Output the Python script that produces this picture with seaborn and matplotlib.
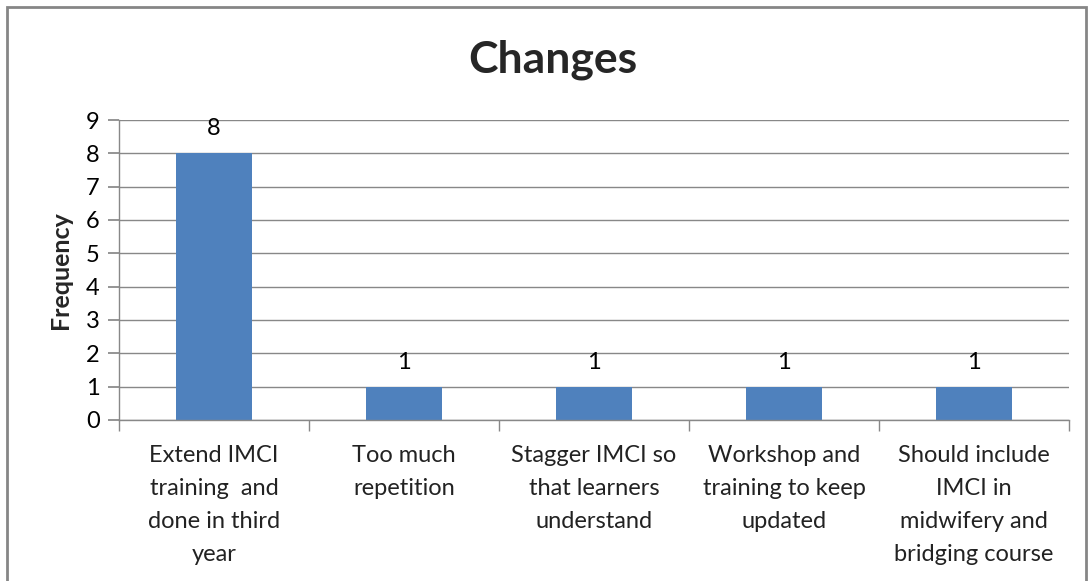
import matplotlib
matplotlib.use('Agg')
import matplotlib.pyplot as plt
import matplotlib.patches as mpatches
import seaborn as sns
import pandas as pd
import numpy as np

# data
categories = ['Extend IMCI\ntraining  and\ndone in third\nyear',
              'Too much\nrepetition',
              'Stagger IMCI so\nthat learners\nunderstand',
              'Workshop and\ntraining to keep\nupdated',
              'Should include\nIMCI in\nmidwifery and\nbridging course']
frequency = [8, 1, 1, 1, 1]

df = pd.DataFrame({'category': categories, 'frequency': frequency})

sns.set_theme(style='white')
plt.rcParams['font.family'] = ['Lato', 'DejaVu Sans']

fig = plt.figure(figsize=(10.92, 5.81), dpi=100)
ax = fig.add_axes([119/1092, 1 - 420/581, (1069 - 119)/1092, 300/581])

sns.barplot(data=df, x='category', y='frequency', color='#4F81BD',
            saturation=1, width=0.4, linewidth=0, ax=ax)

for i, v in enumerate(frequency):
    ax.text(i, v + 0.42, str(v), ha='center', va='bottom', fontsize=17, color='black')

grid = '#888888'
ax.set_ylim(0, 9)
ax.set_xlim(-0.5, len(categories) - 0.5)
ax.set_yticks(range(0, 10))
ax.yaxis.grid(True, color=grid, linewidth=1)
ax.set_axisbelow(True)
for s in ['top', 'right']:
    ax.spines[s].set_visible(False)
for s in ['left', 'bottom']:
    ax.spines[s].set_color(grid)
    ax.spines[s].set_linewidth(1)

ax.tick_params(axis='y', which='major', left=True, length=8, color=grid,
               labelsize=17, labelcolor='black', pad=6)
ax.tick_params(axis='x', which='major', bottom=False, labelsize=17,
               labelcolor='#222222', pad=12)
for lab in ax.get_xticklabels():
    lab.set_linespacing(1.7)
ax.set_xticks(np.arange(-0.5, len(categories)), minor=True)
ax.tick_params(axis='x', which='minor', bottom=True, length=8, color=grid, width=1)

ax.set_xlabel('')
ax.set_ylabel('Frequency', fontsize=18, fontweight='bold', labelpad=10)

fig.text(553/1092, 1 - 60/581, 'Changes', ha='center', va='center',
         fontsize=32, fontweight='bold')

# outer chart frame
frame = mpatches.Rectangle((7/1092, -0.05), (1086 - 7)/1092, 1.05 - 7/581,
                           transform=fig.transFigure, fill=False,
                           edgecolor='#868686', linewidth=2, clip_on=False)
fig.patches.append(frame)

fig.savefig('out.png', dpi=100)
